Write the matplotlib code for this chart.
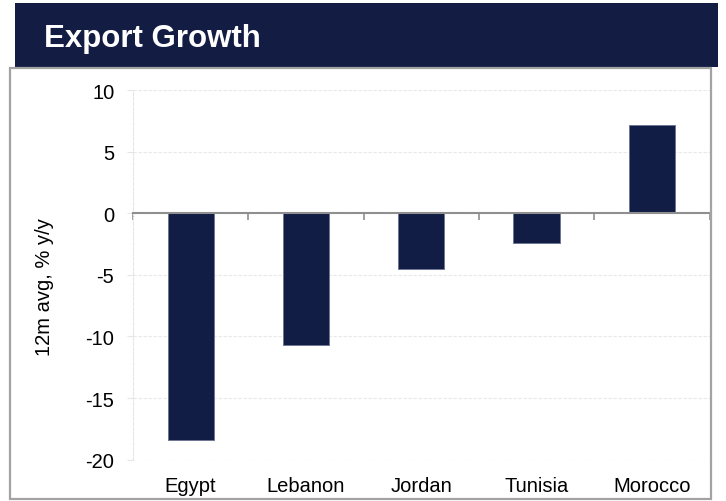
import matplotlib
matplotlib.use("Agg")
import matplotlib.pyplot as plt
from matplotlib.patches import Rectangle
import numpy as np

countries = ["Egypt", "Lebanon", "Jordan", "Tunisia", "Morocco"]
growth = [-18.4, -10.7, -4.5, -2.4, 7.2]
y_ticks = [10, 5, 0, -5, -10, -15, -20]

NAVY = "#131d44"
BAR = "#111d45"
W, H = 726, 502

plt.rcParams["font.family"] = ["Liberation Sans", "DejaVu Sans"]

fig = plt.figure(figsize=(W / 100, H / 100), dpi=100)


def px(x0, y0, x1, y1):
    # pixel box (top-left origin) -> figure fractions
    return x0 / W, 1 - y1 / H, (x1 - x0) / W, (y1 - y0) / H


# header band and frame
x, y, w, h = px(15, 4, 718, 68)
fig.patches.append(Rectangle((x, y), w, h, transform=fig.transFigure,
                             facecolor=NAVY, edgecolor="none", zorder=0))
x, y, w, h = px(10, 69, 711, 500)
fig.patches.append(Rectangle((x, y), w, h, transform=fig.transFigure,
                             facecolor="none", edgecolor="#a3a3a3", lw=1.6, zorder=0))
fig.text(44 / W, 1 - 47.5 / H, "Export Growth", color="white",
         fontsize=22.5, fontweight="bold", ha="left", va="baseline")

ax = fig.add_axes(px(133, 91, 709.5, 460.7))
pos = np.arange(len(countries))
ax.bar(pos, growth, width=0.4, color=BAR, edgecolor="#6f7794", linewidth=0.7, zorder=3)

ax.set_xlim(-0.5, len(countries) - 0.5)
ax.set_ylim(-20, 10)
ax.set_yticks(y_ticks)
ax.set_yticklabels([str(t) for t in y_ticks])
ax.tick_params(axis="y", length=4.5, color="#e6e6e6", pad=9, labelsize=14.5, labelcolor="black")
ax.yaxis.grid(True, color="#e8e8e8", linestyle=(0, (3, 1.5)), linewidth=0.8, zorder=0)

# zero line carries the category boundary ticks
ax.spines["bottom"].set_position(("data", 0))
ax.spines["bottom"].set_color("#8f8f8f")
ax.spines["bottom"].set_linewidth(1.5)
ax.spines["bottom"].set_zorder(4)
ax.set_xticks(np.arange(len(countries) + 1) - 0.5)
ax.set_xticklabels([])
ax.tick_params(axis="x", length=5, width=1.2, color="#8f8f8f", direction="out")

ax.spines["left"].set_color("#e6e6e6")
ax.spines["left"].set_linestyle((0, (3, 1.5)))
ax.spines["left"].set_linewidth(0.8)
for s in ("top", "right"):
    ax.spines[s].set_visible(False)

# category names along the bottom of the plot area
sec = ax.secondary_xaxis(0)
sec.set_xticks(pos)
sec.set_xticklabels(countries)
sec.tick_params(length=0, pad=12, labelsize=14.5, labelcolor="black")
sec.spines["bottom"].set_visible(False)

fig.text(44 / W, 1 - 287 / H, "12m avg, % y/y", rotation=90,
         fontsize=14.5, ha="center", va="center")

fig.savefig("out.png", dpi=100)
